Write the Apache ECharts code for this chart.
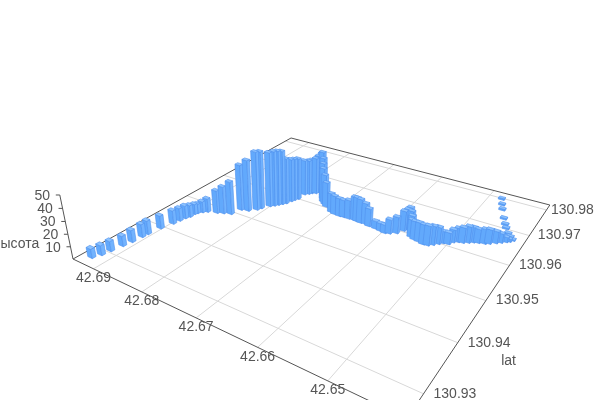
<!DOCTYPE html>
<html><head><meta charset="utf-8">
<style>html,body{margin:0;background:#fff}#c{width:600px;height:400px}</style>
<script src="https://cdn.jsdelivr.net/npm/echarts@6/dist/echarts.min.js"></script></head>
<body><div id="c"></div><script>
var lon=[42.6928,42.6922,42.6919,42.6915,42.6912,42.6910,42.6909,42.6905,42.6899,42.6897,42.6895,42.6892,42.6892,42.6890,42.6885,42.6879,42.6863,42.6853,42.6841,
42.6836,42.6824,42.6814,42.6811,42.6803,42.6798,42.6794,42.6790,42.6786,42.6783,42.6781,42.6778,42.6778,42.6773,42.6770,42.6764,42.6762,42.6759,42.6756,
42.6747,42.6741,42.6735,42.6728,42.6721,42.6704,42.6696,42.6686,42.6679,42.6669,42.6658,42.6653,42.6646,42.6637,42.6629,42.6616,42.6606,42.6598,42.6591,
42.6582,42.6576,42.6573,42.6571,42.6566,42.6561,42.6557,42.6550,42.6542,42.6533,42.6526,42.6520,42.6514,42.6509,42.6501,42.6497,42.6491,42.6484,42.6477,
42.6471,42.6464,42.6455,42.6449,42.6441,42.6435,42.6429,42.6425,42.6421,42.6426,42.6432,42.6440,42.6445,42.6453,42.6465,42.6471,42.6478];
var lat=[130.9278,130.9291,130.9306,130.9326,130.9342,130.9361,130.9372,130.9396,130.9418,130.9431,130.9442,130.9450,130.9461,130.9466,130.9473,130.9479,130.9485,130.9490,130.9495,
130.9516,130.9520,130.9531,130.9539,130.9553,130.9559,130.9565,130.9571,130.9577,130.9588,130.9595,130.9602,130.9622,130.9628,130.9633,130.9637,130.9643,130.9649,130.9647,
130.9636,130.9626,130.9617,130.9611,130.9605,130.9594,130.9591,130.9590,130.9591,130.9591,130.9592,130.9591,130.9590,130.9591,130.9588,130.9587,130.9585,130.9583,130.9586,
130.9593,130.9606,130.9613,130.9618,130.9612,130.9604,130.9595,130.9591,130.9589,130.9586,130.9587,130.9593,130.9600,130.9606,130.9608,130.9617,130.9622,130.9624,130.9629,
130.9634,130.9637,130.9640,130.9644,130.9651,130.9657,130.9663,130.9667,130.9673,130.9679,130.9687,130.9702,130.9713,130.9731,130.9760,130.9777,130.9797];
var height=[7.5,8.2,8.4,8.5,10.0,10.9,11.5,11.0,11.5,11.0,11.0,10.2,8.8,8.2,9.6,11.7,19.6,23.3,28.1,
39.0,43.7,49.9,49.1,46.8,47.2,47.0,46.3,39.5,37.1,36.4,35.9,30.7,30.1,30.2,31.6,32.9,34.7,36.2,
33.8,31.8,29.8,26.1,21.4,16.3,15.9,15.3,14.7,16.0,20.0,20.2,20.1,17.6,15.0,6.5,6.5,6.9,11.8,
13.7,16.6,17.1,17.8,16.7,15.3,14.4,15.2,15.8,16.1,16.2,15.4,13.8,9.8,9.5,10.5,11.4,12.6,13.4,
12.4,11.3,11.9,11.7,9.8,7.6,4.2,2.4,1.0,1.3,1.3,1.3,1.3,1.3,1.4,1.4,1.4];
var lonTicks=[42.69,42.68,42.67,42.66,42.65];
var latTicks=[130.93,130.94,130.95,130.96,130.97,130.98];
var heightTicks=[10,20,30,40,50];
var lonRange=[42.6402,42.6946], latRange=[130.9258,130.9821], heightMax=50;

// camera projection of (lon, lat, height) to the page
function project(lo,la,h){
  var A=5.37*(42.6946-lo), T=8.02*(la-130.9258), w=1-A+T-0.001099*h;
  return [(73+736*A+774*T-0.3297*h)/w,(259+128*A-130*T-1.4946*h)/w];
}
function depth(lo,la){return 1-5.37*(42.6946-lo)+8.02*(la-130.9258);}
var HL=0.000514, HT=0.000344;
var C_TOP='#8cc3ff',C_A='#62a9fc',C_B='#72b3fe',C_EDGE='#5192ee';
var TXT={fill:'#555',font:'14px "Liberation Sans",Arial,sans-serif'};
var latLabelGap=[10,10,10,9.5,8.5,4.5];
function seg(a,b,color){return {type:'line',shape:{x1:a[0],y1:a[1],x2:b[0],y2:b[1]},style:{stroke:color,lineWidth:1}};}
function label(p,dx,dy,t,align){return {type:'text',style:Object.assign({x:p[0]+dx,y:p[1]+dy,text:t,align:align,verticalAlign:'middle'},TXT)};}

var order=lon.map(function(_,i){return i;}).sort(function(a,b){return depth(lon[b],lat[b])-depth(lon[a],lat[a]);});
var barData=order.map(function(i){return [lon[i],lat[i],height[i]];});

function renderBar(p,api){
  var lo=api.value(0),la=api.value(1),h=api.value(2);
  var c=[[lo-HL,la-HT],[lo+HL,la-HT],[lo+HL,la+HT],[lo-HL,la+HT]];
  var b=c.map(function(q){return project(q[0],q[1],0);}), t=c.map(function(q){return project(q[0],q[1],h);});
  var kids=[];
  var cols=[C_A,C_B,C_A,C_B];
  for(var i=0;i<4;i++){
    var j=(i+1)%4, pts=[b[i],b[j],t[j],t[i]], ar=0;
    for(var k=0;k<4;k++){var m=(k+1)%4;ar+=pts[k][0]*pts[m][1]-pts[m][0]*pts[k][1];}
    if(ar>0) kids.push({type:'polygon',shape:{points:pts},style:{fill:cols[i],stroke:C_EDGE,lineWidth:0.6}});
  }
  kids.push({type:'polygon',shape:{points:t},style:{fill:C_TOP,stroke:C_EDGE,lineWidth:0.6}});
  return {type:'group',children:kids};
}
function floorSeries(data,fn,z){return {type:'custom',coordinateSystem:'none',silent:true,z:z,animation:false,clip:false,data:data,renderItem:fn};}

var option={animation:false,series:[
  floorSeries(lonTicks.map(function(v){return [v];}),function(p,api){var v=api.value(0);
    var a=project(v,latRange[0],0),b=project(v,latRange[1],0);
    return {type:'group',children:[seg(a,b,'#d8d8d8'),label(a,0,9.5,v.toFixed(2),'center')]};},1),
  floorSeries(latTicks.map(function(v,i){return [v,latLabelGap[i]];}),function(p,api){var v=api.value(0);
    var a=project(lonRange[0],v,0),b=project(lonRange[1],v,0);
    return {type:'group',children:[seg(a,b,'#d8d8d8'),label(a,api.value(1),0,v.toFixed(2),'left')]};},1),
  floorSeries([[0],[1],[2],[3]],function(p,api){
    var c=[[lonRange[1],latRange[0]],[lonRange[0],latRange[0]],[lonRange[0],latRange[1]],[lonRange[1],latRange[1]]];
    var i=api.value(0),a=c[i],b=c[(i+1)%4];
    return seg(project(a[0],a[1],0),project(b[0],b[1],0),'#555');},2),
  floorSeries(heightTicks.map(function(v){return [v];}),function(p,api){var v=api.value(0);
    var a=project(lonRange[1],latRange[0],v);
    return {type:'group',children:[seg(a,[a[0]-4,a[1]],'#555'),label(a,-9.7,1,String(v),'right')]};},2),
  floorSeries([[heightMax]],function(p,api){
    return seg(project(lonRange[1],latRange[0],0),project(lonRange[1],latRange[0],api.value(0)),'#555');},2),
  {type:'custom',coordinateSystem:'none',silent:true,z:3,animation:false,clip:false,data:[[0]],renderItem:function(){
    return {type:'group',children:[
      label(project(lonRange[1],latRange[0],15),-30,4,'высота','right'),
      label(project(lonRange[0],130.937,0),53,4,'lat','left')]};}},
  {type:'custom',coordinateSystem:'none',silent:true,z:4,clip:false,data:barData,renderItem:renderBar}
]};
var chart=echarts.init(document.getElementById('c'),null,{renderer:'canvas'});
chart.setOption(option);
</script></body></html>
